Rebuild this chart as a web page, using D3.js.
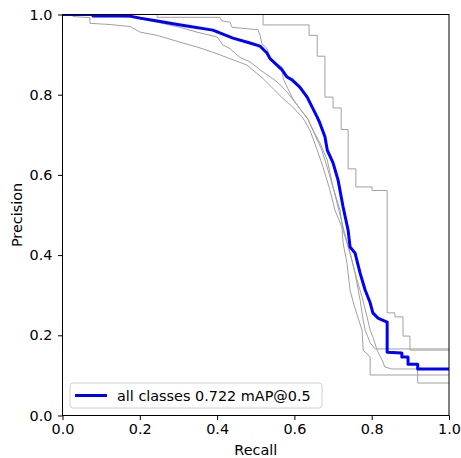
<!DOCTYPE html>
<meta charset="utf-8">
<style>
    body { margin: 0; background: #fff; }
    text { font-family: "DejaVu Sans", sans-serif; font-size: 14.4px; fill: #000; }
</style>
<svg width="461" height="458"></svg>
<script src="https://d3js.org/d3.v7.min.js"></script>
<script>
    // per-class PR curves, [recall, precision]
    var classA = [[0, 1], [0.519, 0.974], [0.638, 0.948], [0.659, 0.896], [0.679, 0.794], [0.700, 0.767],
        [0.721, 0.713], [0.739, 0.615], [0.759, 0.570], [0.801, 0.561], [0.840, 0.256], [0.860, 0.246],
        [0.881, 0.198], [0.899, 0.163], [1, 0.163]];   // drawn as steps

    var classB = [[0, 1], [0.245, 1], [0.245, 0.993], [0.407, 0.993], [0.413, 0.984], [0.433, 0.981],
        [0.439, 0.968], [0.506, 0.962], [0.511, 0.948], [0.516, 0.927], [0.529, 0.915], [0.537, 0.890],
        [0.545, 0.882], [0.558, 0.874], [0.568, 0.869], [0.571, 0.840], [0.583, 0.815], [0.596, 0.790],
        [0.614, 0.765], [0.636, 0.738], [0.653, 0.700], [0.671, 0.662], [0.687, 0.612], [0.702, 0.562],
        [0.715, 0.512], [0.728, 0.462], [0.744, 0.405], [0.762, 0.338], [0.775, 0.296], [0.788, 0.246],
        [0.796, 0.213], [0.803, 0.196], [0.814, 0.163], [0.827, 0.138], [0.834, 0.121], [0.852, 0.116],
        [0.919, 0.116], [0.919, 0.081], [1, 0.081]];

    var classC = [[0, 1], [0.097, 0.999], [0.175, 0.993], [0.245, 0.981], [0.304, 0.968], [0.348, 0.956],
        [0.400, 0.944], [0.415, 0.924], [0.433, 0.915], [0.459, 0.893], [0.485, 0.882], [0.511, 0.862],
        [0.529, 0.850], [0.555, 0.832], [0.581, 0.807], [0.607, 0.774], [0.633, 0.742], [0.648, 0.712],
        [0.666, 0.680], [0.685, 0.637], [0.700, 0.569], [0.718, 0.512], [0.726, 0.462], [0.744, 0.405],
        [0.757, 0.355], [0.770, 0.288], [0.778, 0.238], [0.783, 0.213], [0.790, 0.196], [0.796, 0.181],
        [0.809, 0.166], [1, 0.166]];

    var classD = [[0, 1], [0.027, 1], [0.027, 0.995], [0.071, 0.992], [0.071, 0.978], [0.123, 0.975],
        [0.175, 0.970], [0.201, 0.956], [0.245, 0.948], [0.304, 0.931], [0.348, 0.919], [0.389, 0.906],
        [0.433, 0.890], [0.477, 0.874], [0.519, 0.840], [0.545, 0.815], [0.571, 0.790], [0.596, 0.769],
        [0.622, 0.742], [0.640, 0.712], [0.659, 0.662], [0.674, 0.620], [0.692, 0.562], [0.705, 0.512],
        [0.723, 0.470], [0.726, 0.430], [0.736, 0.380], [0.744, 0.313], [0.754, 0.276], [0.765, 0.243],
        [0.775, 0.213], [0.778, 0.163], [0.796, 0.146], [0.796, 0.101], [1, 0.101]];

    var allClasses = [[0, 1], [0.079, 1], [0.079, 0.996], [0.175, 0.996], [0.201, 0.991], [0.245, 0.984],
        [0.298, 0.975], [0.330, 0.970], [0.389, 0.961], [0.441, 0.941], [0.485, 0.929], [0.511, 0.921],
        [0.529, 0.904], [0.537, 0.890], [0.555, 0.874], [0.568, 0.862], [0.581, 0.844], [0.594, 0.837],
        [0.614, 0.819], [0.633, 0.794], [0.646, 0.769], [0.659, 0.744], [0.666, 0.729], [0.679, 0.695],
        [0.685, 0.662], [0.700, 0.630], [0.713, 0.587], [0.726, 0.520], [0.739, 0.462], [0.744, 0.420],
        [0.757, 0.405], [0.770, 0.355], [0.783, 0.313], [0.796, 0.281], [0.803, 0.256], [0.816, 0.243],
        [0.840, 0.233], [0.840, 0.158], [0.878, 0.156], [0.878, 0.146], [0.894, 0.146], [0.894, 0.128],
        [0.919, 0.128], [0.919, 0.116], [1, 0.116]];

    var ticks = [0, 0.2, 0.4, 0.6, 0.8, 1.0];
    var legendLabel = "all classes 0.722 mAP@0.5";

    var svg = d3.select("svg"),
        pL = 62.5, pR = 449, pT = 14.5, pB = 415.5;

    var x = d3.scaleLinear().domain([0, 1]).range([pL, pR]);
    var y = d3.scaleLinear().domain([0, 1]).range([pB, pT]);

    svg.append("clipPath").attr("id", "plotclip")
        .append("rect")
        .attr("x", pL).attr("y", pT)
        .attr("width", pR - pL).attr("height", pB - pT);

    var line = d3.line().x(function (d) { return x(d[0]); }).y(function (d) { return y(d[1]); });
    var stepLine = d3.line().curve(d3.curveStepAfter)
        .x(function (d) { return x(d[0]); }).y(function (d) { return y(d[1]); });

    var plot = svg.append("g").attr("clip-path", "url(#plotclip)");

    plot.append("path").datum(classA).attr("d", stepLine)
        .attr("fill", "none").attr("stroke", "#a0a0a0").attr("stroke-width", 1);
    [classB, classC, classD].forEach(function (c) {
        plot.append("path").datum(c).attr("d", line)
            .attr("fill", "none").attr("stroke", "#a0a0a0").attr("stroke-width", 1);
    });
    plot.append("path").datum(allClasses).attr("d", line)
        .attr("fill", "none").attr("stroke", "#0000ff").attr("stroke-width", 3)
        .attr("stroke-linejoin", "round");

    var fmt = d3.format(".1f");
    var xAxis = svg.append("g").attr("transform", "translate(0," + pB + ")")
        .call(d3.axisBottom(x).tickValues(ticks).tickFormat(fmt).tickSize(4.5).tickPadding(4));
    var yAxis = svg.append("g").attr("transform", "translate(" + pL + ",0)")
        .call(d3.axisLeft(y).tickValues(ticks).tickFormat(fmt).tickSize(4.5).tickPadding(5.5));

    [xAxis, yAxis].forEach(function (a) {
        a.select(".domain").remove();
        a.selectAll("line").attr("stroke", "#000").attr("stroke-width", 1);
        a.selectAll("text").attr("fill", "#000");
        a.attr("font-size", null).attr("font-family", null);
    });

    svg.append("rect")
        .attr("x", pL).attr("y", pT)
        .attr("width", pR - pL).attr("height", pB - pT)
        .attr("fill", "none").attr("stroke", "#000").attr("stroke-width", 1);

    svg.append("text")
        .attr("x", (pL + pR) / 2).attr("y", 455)
        .attr("text-anchor", "middle")
        .text("Recall");
    svg.append("text")
        .attr("transform", "translate(22," + ((pT + pB) / 2) + ") rotate(-90)")
        .attr("text-anchor", "middle")
        .text("Precision");

    // legend
    var lg = svg.append("g");
    lg.append("rect")
        .attr("x", 70).attr("y", 383).attr("width", 252).attr("height", 25).attr("rx", 3)
        .attr("fill", "#fff").attr("fill-opacity", 0.8)
        .attr("stroke", "#d0d0d0").attr("stroke-width", 1);
    lg.append("line")
        .attr("x1", 75).attr("x2", 107).attr("y1", 395.5).attr("y2", 395.5)
        .attr("stroke", "#0000ff").attr("stroke-width", 3);
    lg.append("text")
        .attr("x", 117).attr("y", 400.5)
        .text(legendLabel);
</script>
